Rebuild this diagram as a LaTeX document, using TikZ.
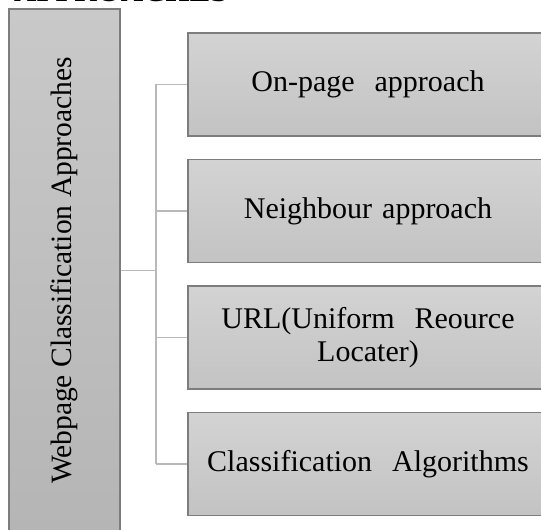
\documentclass[tikz,border=0pt]{standalone}
\usepackage{fontspec}
\usepackage{graphicx}
\setmainfont{LiberationSerif}[Extension=.ttf, UprightFont=*-Regular, BoldFont=*-Bold]
\newfontfamily\boxfont{LiberationSerif}[Extension=.ttf, UprightFont=*-Regular, BoldFont=*-Bold]
\usetikzlibrary{positioning, calc, shadings}

\definecolor{rootTop}{RGB}{201,201,201}
\definecolor{rootBottom}{RGB}{181,181,181}
\definecolor{itemTop}{RGB}{211,211,211}
\definecolor{itemBottom}{RGB}{195,195,195}
\definecolor{boxBorder}{RGB}{125,125,125}
\definecolor{linkGray}{RGB}{185,185,185}

\begin{document}
\begin{tikzpicture}[
    x=1pt, y=1pt,
    node distance=22pt,
    rootbox/.style={rectangle, draw=boxBorder, line width=1.5pt, top color=rootTop, bottom color=rootBottom, minimum width=111pt, minimum height=523pt, inner sep=0pt, font=\boxfont\fontsize{29.5}{33}\selectfont},
    itembox/.style={rectangle, draw=boxBorder, line width=1.5pt, top color=itemTop, bottom color=itemBottom, minimum width=360pt, minimum height=103pt, text width=340pt, align=center, inner sep=0pt, font=\boxfont\fontsize{30}{33}\selectfont},
    link/.style={draw=linkGray, line width=1.8pt}
]

    \useasboundingbox (0,0) rectangle (541,530);
    \clip (0,0) rectangle (541,530);

    % Heading (cut off at the top)
    \node [anchor=base west, inner sep=0pt, font=\boxfont\fontsize{31}{36}\selectfont\bfseries] (heading) at (14,528) {APPROACHES};

    % Root box
    \node [rootbox] (root) at (64.5,259.5) {\rotatebox{90}{Webpage Classification Approaches}};

    % Approaches
    \node [itembox] (onpage) at (368,445.5) {On-page\ \ approach};
    \node [itembox, below=of onpage] (neighbour) {Neighbour approach};
    \node [itembox, below=of neighbour] (url) {URL(Uniform\ \ Reource\\Locater)};
    \node [itembox, below=of url] (algo) {Classification\ \ Algorithms};

    % Connections
    \path [link] (root.east) -- ++(35,0) coordinate (bus);
    \path [link] (bus |- onpage.west) -- (bus |- algo.west);
    \foreach \item in {onpage, neighbour, url, algo}
        \path [link] (bus |- \item.west) -- (\item.west);

\end{tikzpicture}
\end{document}
